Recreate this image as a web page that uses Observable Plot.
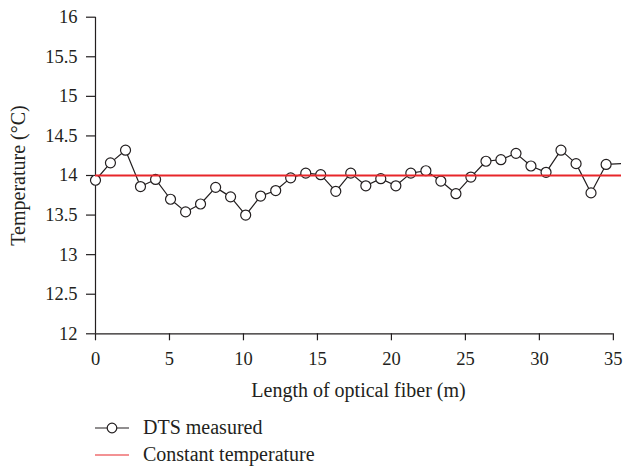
<!DOCTYPE html>
<html><head><meta charset="utf-8">
<script src="https://cdn.jsdelivr.net/npm/d3@7"></script>
<script src="https://cdn.jsdelivr.net/npm/@observablehq/plot@0.6"></script>
<style>
body{margin:0;background:#fff;font-family:"Liberation Serif",serif;color:#231f20}
#legend{padding-top:8px}
.row{display:flex;align-items:center;height:27px;font-size:20px}
.row svg{margin-left:95px;margin-right:14px;flex:none}
</style></head><body>
<div id="chart"></div>
<div id="legend"></div>
<script>
// Measured points (length in m, temperature in °C)
const lengthM = [0, 1.01, 2.03, 3.04, 4.06, 5.07, 6.09, 7.1, 8.12, 9.13, 10.15, 11.16, 12.18, 13.19, 14.21, 15.22, 16.24, 17.25, 18.27, 19.28, 20.3, 21.31, 22.33, 23.34, 24.36, 25.37, 26.39, 27.4, 28.42, 29.43, 30.45, 31.46, 32.48, 33.49, 34.51];
const tempDTS = [13.94, 14.16, 14.32, 13.86, 13.95, 13.70, 13.54, 13.64, 13.85, 13.73, 13.50, 13.74, 13.81, 13.97, 14.03, 14.01, 13.80, 14.03, 13.87, 13.96, 13.87, 14.03, 14.06, 13.93, 13.77, 13.98, 14.18, 14.20, 14.28, 14.12, 14.04, 14.32, 14.15, 13.78, 14.14];
// the trace continues past the right edge (clipped there)
const tailLength = [36.53];
const tailTemp = [14.16];
const constantTemp = 14;
const xTicks = [0, 5, 10, 15, 20, 25, 30, 35];
const yTicks = [12, 12.5, 13, 13.5, 14, 14.5, 15, 15.5, 16];
const seriesNames = ["DTS measured", "Constant temperature"];
const seriesColors = ["#231f20", "#e8262a"];
const xLabel = "Length of optical fiber (m)";
const yLabel = "Temperature (°C)";

const measured = lengthM.map((x, i) => ({x, y: tempDTS[i]}));
const lineData = lengthM.concat(tailLength).map((x, i) => ({x, y: tempDTS.concat(tailTemp)[i]}));
const axisColor = "#231f20";
const serif = "'Liberation Serif', serif";

const chart = Plot.plot({
  width: 623, height: 406,
  marginLeft: 95, marginRight: 2, marginTop: 16.7, marginBottom: 72.7,
  style: {fontFamily: serif, fontSize: "18.5px", color: axisColor, background: "#fff"},
  x: {domain: [0, 35.55]},
  y: {domain: [12, 16]},
  marks: [
    Plot.ruleX([xTicks[0]], {y1: yTicks[0], y2: yTicks[yTicks.length - 1], stroke: axisColor, strokeWidth: 1.2}),
    Plot.ruleY([yTicks[0]], {x1: xTicks[0], x2: xTicks[xTicks.length - 1], stroke: axisColor, strokeWidth: 1.2}),
    Plot.axisX({ticks: xTicks, tickSize: 7, tickPadding: 11, label: null, stroke: axisColor, strokeWidth: 1.2, fontFamily: serif, tickFormat: d => String(d)}),
    Plot.axisX({ticks: [], tickSize: 0, label: xLabel, labelAnchor: "center", labelArrow: "none", labelOffset: 62.7, fontSize: 20, fontFamily: serif, dx: -4.5}),
    Plot.axisY({ticks: yTicks, tickSize: 9, tickPadding: 9, label: null, stroke: axisColor, strokeWidth: 1.2, fontFamily: serif, tickFormat: d => String(d)}),
    Plot.axisY({ticks: [], tickSize: 0, label: yLabel, labelAnchor: "center", labelArrow: "none", labelOffset: 85, fontSize: 20, fontFamily: serif}),
    Plot.line(lineData, {x: "x", y: "y", stroke: seriesColors[0], strokeWidth: 1.2, clip: true}),
    Plot.dot(measured, {x: "x", y: "y", r: 5, stroke: seriesColors[0], fill: "white", strokeWidth: 1.2}),
    Plot.ruleY([constantTemp], {stroke: seriesColors[1], strokeWidth: 2})
  ]
});
document.getElementById("chart").appendChild(chart);

const legend = document.getElementById("legend");
seriesNames.forEach((name, i) => {
  const row = document.createElement("div");
  row.className = "row";
  const sym = i === 0
    ? `<svg width="34" height="14"><line x1="0" y1="7" x2="34" y2="7" stroke="${seriesColors[0]}" stroke-width="1.2"/><circle cx="17" cy="7" r="4.8" fill="white" stroke="${seriesColors[0]}" stroke-width="1.2"/></svg>`
    : `<svg width="34" height="14"><line x1="0" y1="7" x2="34" y2="7" stroke="${seriesColors[1]}" stroke-width="1.2"/></svg>`;
  row.innerHTML = sym + `<span>${name}</span>`;
  legend.appendChild(row);
});
</script>
</body></html>
